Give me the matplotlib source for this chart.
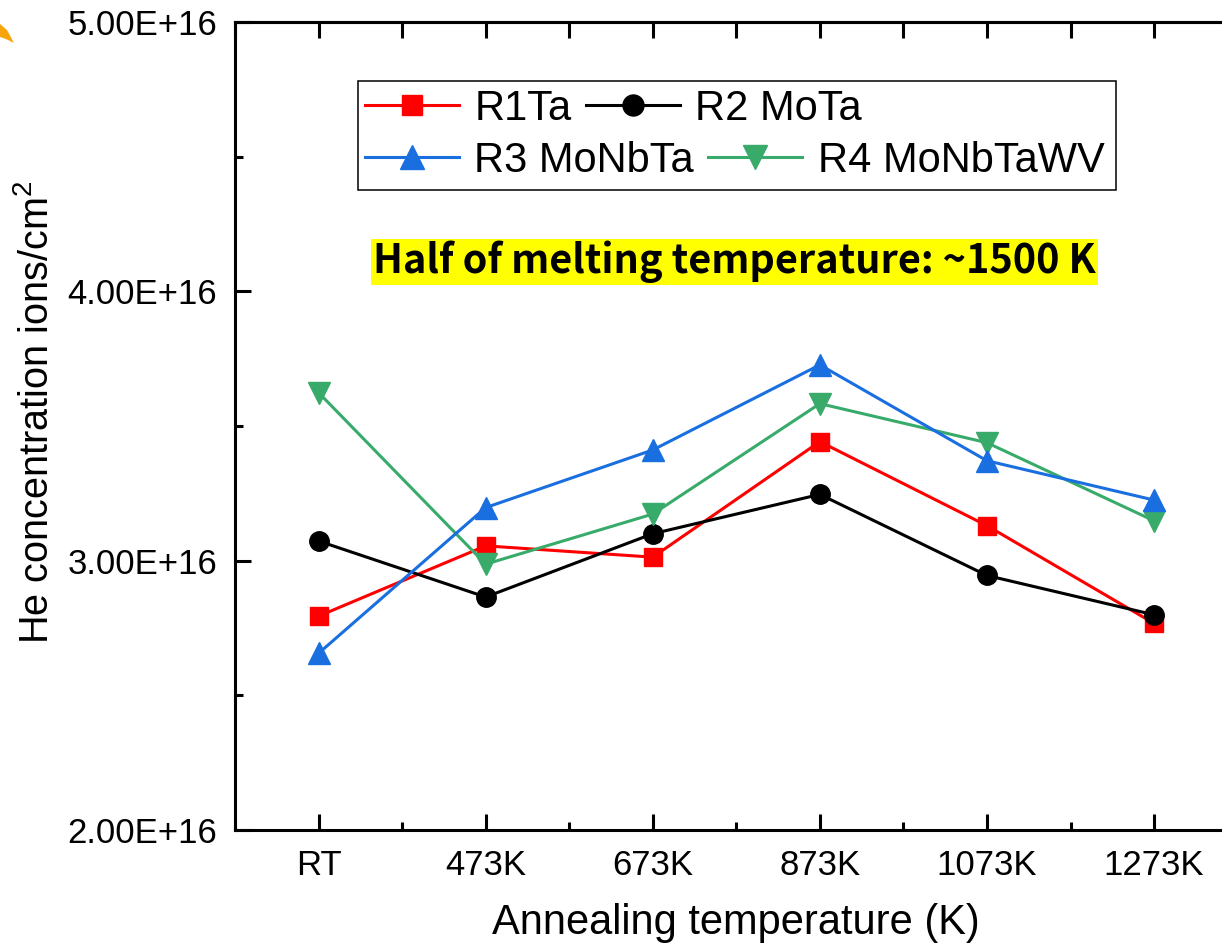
import numpy as np
import matplotlib
matplotlib.use("Agg")
import matplotlib.pyplot as plt
from matplotlib.patches import Rectangle, Polygon
from matplotlib.ticker import FuncFormatter, MultipleLocator

# data (He concentration, 1e16 ions/cm2)
temps = ["RT", "473K", "673K", "873K", "1073K", "1273K"]
r1_ta = [2.794, 3.055, 3.013, 3.442, 3.130, 2.767]
r2_mota = [3.073, 2.865, 3.100, 3.246, 2.945, 2.799]
r3_monbta = [2.656, 3.197, 3.411, 3.727, 3.371, 3.225]
r4_monbtawv = [3.624, 2.987, 3.173, 3.583, 3.438, 3.148]
scale = 1e16

plt.rcParams['font.family'] = ['Liberation Sans', 'DejaVu Sans']
plt.rcParams['mathtext.fontset'] = 'custom'
plt.rcParams['mathtext.rm'] = 'Liberation Sans'
plt.rcParams['mathtext.it'] = 'Liberation Sans:italic'

W, H = 1222, 947
fig = plt.figure(figsize=(W / 100, H / 100), dpi=100)
# axes runs past the right edge of the picture (cropped like the original)
ax = fig.add_axes([235 / W, (H - 830) / H, 1002.6 / W, 808 / H])

x = np.arange(len(temps))
red = "#ff0000"
blue = "#1a6fe0"
green = "#38ab6b"
lw = 2.2

l1, = ax.plot(x, np.array(r1_ta) * scale, color=red, lw=lw, marker="s", ms=13, mec=red, label="R1Ta")
l2, = ax.plot(x, np.array(r2_mota) * scale, color="black", lw=lw, marker="o", ms=14, mec="black", label="R2 MoTa")
l4, = ax.plot(x, np.array(r4_monbtawv) * scale, color=green, lw=lw, marker="v", ms=16, mec=green, label="R4 MoNbTaWV")
l3, = ax.plot(x, np.array(r3_monbta) * scale, color=blue, lw=lw, marker="^", ms=16, mec=blue, label="R3 MoNbTa")

ax.set_xlim(-0.5, 5.5)
ax.set_ylim(2e16, 5e16)
ax.set_xticks(x)
ax.set_xticklabels(temps)
ax.xaxis.set_minor_locator(MultipleLocator(0.5))
ax.yaxis.set_major_locator(MultipleLocator(1e16))
ax.yaxis.set_minor_locator(MultipleLocator(0.5e16))
ax.yaxis.set_major_formatter(FuncFormatter(lambda v, p: f"{v:.2E}"))

ax.tick_params(which="both", direction="in", width=2.2, labelsize=25)
ax.tick_params(which="major", length=11.5)
ax.tick_params(which="minor", length=5.5)
ax.tick_params(axis="y", pad=13)
ax.tick_params(axis="x", pad=14)
for s in ax.spines.values():
    s.set_linewidth(2.2)

top = ax.secondary_xaxis("top")
top.set_xticks(np.arange(-0.5, 5.6, 0.5))
top.tick_params(direction="in", length=11.5, width=2.2, labeltop=False)
top.spines["top"].set_linewidth(2.2)

ax.set_xlabel("Annealing temperature (K)", fontsize=30, labelpad=15)
ax.set_ylabel("He concentration ions/cm$^2$", fontsize=28.5, labelpad=8)
ax.yaxis.label.set_y(0.517)

# legend in two rows, flowing like the original
def px2ax(px, py):
    return (px - 235) / 1002.6, (830 - py) / 808

leg_kw = dict(ncol=2, frameon=False, fontsize=30, loc="center left", borderpad=0,
              borderaxespad=0, handlelength=2.25, handletextpad=0.37, columnspacing=0.35,
              markerscale=1.08)
leg1 = ax.legend(handles=[l1, l2], bbox_to_anchor=px2ax(365, 109), **leg_kw)
ax.add_artist(leg1)
leg2 = ax.legend(handles=[l3, l4], bbox_to_anchor=px2ax(365, 161), **leg_kw)
bx0, by0 = px2ax(358, 190)
bx1, by1 = px2ax(1116, 81)
ax.add_patch(Rectangle((bx0, by0), bx1 - bx0, by1 - by0, transform=ax.transAxes,
                       fill=False, edgecolor="black", lw=1.1, zorder=5))

tx, ty = px2ax(734.5, 262)
ax.text(tx, ty, "Half of melting temperature: ~1500 K", transform=ax.transAxes,
        ha="center", va="center", fontsize=28.5, fontweight="bold",
        family=["Noto Sans CJK SC", "DejaVu Sans"],
        bbox=dict(facecolor="#ffff00", edgecolor="none", pad=1.5))

# small orange fragment in the top-left corner
pts = [(0, 24), (7, 30), (14, 43), (6, 39), (0, 37)]
fig.patches.append(Polygon([(px / W, (H - py) / H) for px, py in pts], closed=True,
                           transform=fig.transFigure, facecolor="#f7a40b", edgecolor="none"))

fig.savefig("out.png", dpi=100)
